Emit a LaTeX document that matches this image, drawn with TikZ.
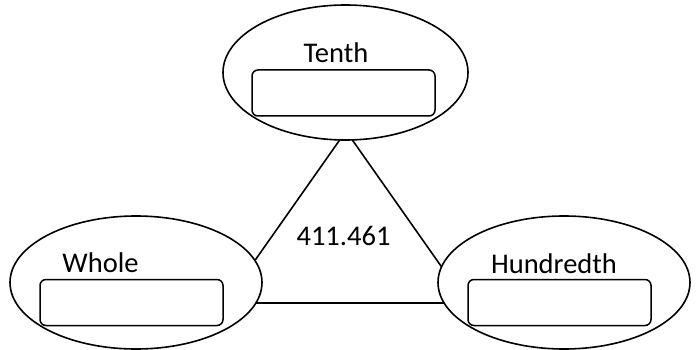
\documentclass[tikz,border=0pt]{standalone}
\usepackage{fontspec}
\setmainfont{Carlito}
\usetikzlibrary{shapes.geometric}
\begin{document}
\begin{tikzpicture}[x=1pt,y=-1pt,
  bubble/.style={draw,ellipse,fill=white,line width=1.6pt,inner sep=0pt},
  answerbox/.style={draw,rectangle,rounded corners=6pt,line width=1.5pt,
    minimum width=183pt,minimum height=46pt,inner sep=0pt},
  label/.style={inner sep=0pt,anchor=base,font=\fontsize{28.5}{34}\selectfont},
  edge/.style={line width=1.6pt}]
\useasboundingbox (0,0) rectangle (699,350);
% corners of the triangle, hidden under the ellipses
\coordinate (apex) at (346,131);
\coordinate (bl) at (225,303);
\coordinate (br) at (467,303);
\draw[edge] (apex) -- (bl) -- (br) -- cycle;
% the three place-value bubbles
\node[bubble,minimum width=245pt,minimum height=135pt] (tenth) at (345.5,72.5) {};
\node[bubble,minimum width=252pt,minimum height=133pt] (whole) at (136,282.5) {};
\node[bubble,minimum width=252pt,minimum height=133pt] (hund) at (564,282.5) {};
% empty answer boxes
\node[answerbox] (tenthbox) at (343.5,93) {};
\node[answerbox] (wholebox) at (131.5,302.5) {};
\node[answerbox] (hundbox) at (559.5,302.5) {};
% labels
\node[label] (tenthlab) at (336,63) {Tenth};
\node[label] (wholelab) at (100.5,272) {Whole};
\node[label] (hundlab) at (554,273) {Hundredth};
\node[label] (number) at (343.5,245) {411.461};
\end{tikzpicture}
\end{document}
